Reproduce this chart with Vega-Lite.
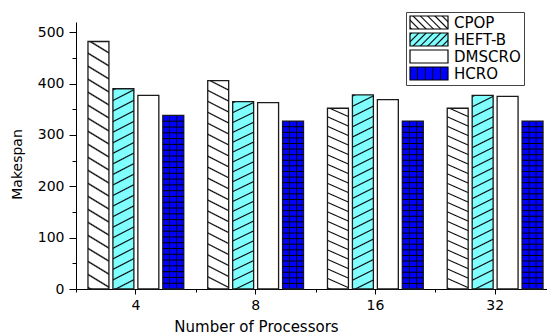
{
  "$schema": "https://vega.github.io/schema/vega-lite/v6.json",
  "width": 471,
  "height": 267,
  "autosize": {"type": "none"},
  "padding": {"left": 76, "top": 22, "right": 0, "bottom": 45},
  "background": "white",
  "config": {
    "font": "DejaVu Sans",
    "view": {"stroke": null},
    "axis": {"domainColor": "#000", "tickColor": "#000", "labelColor": "#000", "titleColor": "#000", "grid": false, "titleFontWeight": "normal"}
  },
  "params": [
    {"name": "gCPOP", "value": {"gradient": "linear", "x1": 0, "y1": 1, "x2": 0.054, "y2": -0.049, "stops": [
      {"offset": 0, "color": "#fff"}, {"offset": 0.006, "color": "#000"}, {"offset": 0.012, "color": "#fff"},
      {"offset": 0.05, "color": "#fff"}, {"offset": 0.056, "color": "#000"}, {"offset": 0.062, "color": "#fff"},
      {"offset": 0.1, "color": "#fff"}, {"offset": 0.106, "color": "#000"}, {"offset": 0.112, "color": "#fff"},
      {"offset": 0.15, "color": "#fff"}, {"offset": 0.156, "color": "#000"}, {"offset": 0.162, "color": "#fff"},
      {"offset": 0.2, "color": "#fff"}, {"offset": 0.206, "color": "#000"}, {"offset": 0.212, "color": "#fff"},
      {"offset": 0.25, "color": "#fff"}, {"offset": 0.256, "color": "#000"}, {"offset": 0.262, "color": "#fff"},
      {"offset": 0.3, "color": "#fff"}, {"offset": 0.306, "color": "#000"}, {"offset": 0.312, "color": "#fff"},
      {"offset": 0.35, "color": "#fff"}, {"offset": 0.356, "color": "#000"}, {"offset": 0.362, "color": "#fff"},
      {"offset": 0.4, "color": "#fff"}, {"offset": 0.406, "color": "#000"}, {"offset": 0.412, "color": "#fff"},
      {"offset": 0.45, "color": "#fff"}, {"offset": 0.456, "color": "#000"}, {"offset": 0.462, "color": "#fff"},
      {"offset": 0.5, "color": "#fff"}, {"offset": 0.506, "color": "#000"}, {"offset": 0.512, "color": "#fff"},
      {"offset": 0.55, "color": "#fff"}, {"offset": 0.556, "color": "#000"}, {"offset": 0.562, "color": "#fff"},
      {"offset": 0.6, "color": "#fff"}, {"offset": 0.606, "color": "#000"}, {"offset": 0.612, "color": "#fff"},
      {"offset": 0.65, "color": "#fff"}, {"offset": 0.656, "color": "#000"}, {"offset": 0.662, "color": "#fff"},
      {"offset": 0.7, "color": "#fff"}, {"offset": 0.706, "color": "#000"}, {"offset": 0.712, "color": "#fff"},
      {"offset": 0.75, "color": "#fff"}, {"offset": 0.756, "color": "#000"}, {"offset": 0.762, "color": "#fff"},
      {"offset": 0.8, "color": "#fff"}, {"offset": 0.806, "color": "#000"}, {"offset": 0.812, "color": "#fff"},
      {"offset": 0.85, "color": "#fff"}, {"offset": 0.856, "color": "#000"}, {"offset": 0.862, "color": "#fff"},
      {"offset": 0.9, "color": "#fff"}, {"offset": 0.906, "color": "#000"}, {"offset": 0.912, "color": "#fff"},
      {"offset": 0.95, "color": "#fff"}, {"offset": 0.956, "color": "#000"}, {"offset": 0.962, "color": "#fff"},
      {"offset": 1, "color": "#fff"}]}},
    {"name": "gHEFT", "value": {"gradient": "linear", "x1": 0, "y1": 0, "x2": 0.0568, "y2": 1.0508, "stops": [
      {"offset": 0, "color": "#80ffff"}, {"offset": 0.006, "color": "#000"}, {"offset": 0.012, "color": "#80ffff"},
      {"offset": 0.05, "color": "#80ffff"}, {"offset": 0.056, "color": "#000"}, {"offset": 0.062, "color": "#80ffff"},
      {"offset": 0.1, "color": "#80ffff"}, {"offset": 0.106, "color": "#000"}, {"offset": 0.112, "color": "#80ffff"},
      {"offset": 0.15, "color": "#80ffff"}, {"offset": 0.156, "color": "#000"}, {"offset": 0.162, "color": "#80ffff"},
      {"offset": 0.2, "color": "#80ffff"}, {"offset": 0.206, "color": "#000"}, {"offset": 0.212, "color": "#80ffff"},
      {"offset": 0.25, "color": "#80ffff"}, {"offset": 0.256, "color": "#000"}, {"offset": 0.262, "color": "#80ffff"},
      {"offset": 0.3, "color": "#80ffff"}, {"offset": 0.306, "color": "#000"}, {"offset": 0.312, "color": "#80ffff"},
      {"offset": 0.35, "color": "#80ffff"}, {"offset": 0.356, "color": "#000"}, {"offset": 0.362, "color": "#80ffff"},
      {"offset": 0.4, "color": "#80ffff"}, {"offset": 0.406, "color": "#000"}, {"offset": 0.412, "color": "#80ffff"},
      {"offset": 0.45, "color": "#80ffff"}, {"offset": 0.456, "color": "#000"}, {"offset": 0.462, "color": "#80ffff"},
      {"offset": 0.5, "color": "#80ffff"}, {"offset": 0.506, "color": "#000"}, {"offset": 0.512, "color": "#80ffff"},
      {"offset": 0.55, "color": "#80ffff"}, {"offset": 0.556, "color": "#000"}, {"offset": 0.562, "color": "#80ffff"},
      {"offset": 0.6, "color": "#80ffff"}, {"offset": 0.606, "color": "#000"}, {"offset": 0.612, "color": "#80ffff"},
      {"offset": 0.65, "color": "#80ffff"}, {"offset": 0.656, "color": "#000"}, {"offset": 0.662, "color": "#80ffff"},
      {"offset": 0.7, "color": "#80ffff"}, {"offset": 0.706, "color": "#000"}, {"offset": 0.712, "color": "#80ffff"},
      {"offset": 0.75, "color": "#80ffff"}, {"offset": 0.756, "color": "#000"}, {"offset": 0.762, "color": "#80ffff"},
      {"offset": 0.8, "color": "#80ffff"}, {"offset": 0.806, "color": "#000"}, {"offset": 0.812, "color": "#80ffff"},
      {"offset": 0.85, "color": "#80ffff"}, {"offset": 0.856, "color": "#000"}, {"offset": 0.862, "color": "#80ffff"},
      {"offset": 0.9, "color": "#80ffff"}, {"offset": 0.906, "color": "#000"}, {"offset": 0.912, "color": "#80ffff"},
      {"offset": 0.95, "color": "#80ffff"}, {"offset": 0.956, "color": "#000"}, {"offset": 0.962, "color": "#80ffff"},
      {"offset": 1, "color": "#80ffff"}]}},
    {"name": "gHCRO", "value": {"gradient": "linear", "x1": 0, "y1": 0, "x2": 1, "y2": 0, "stops": [
      {"offset": 0, "color": "#0000ff"}, {"offset": 0.3, "color": "#0000ff"}, {"offset": 0.325, "color": "#000"},
      {"offset": 0.342, "color": "#000"}, {"offset": 0.367, "color": "#0000ff"}, {"offset": 0.633, "color": "#0000ff"},
      {"offset": 0.658, "color": "#000"}, {"offset": 0.675, "color": "#000"}, {"offset": 0.7, "color": "#0000ff"},
      {"offset": 1, "color": "#0000ff"}]}},
    {"name": "gHCROrows", "value": {"gradient": "linear", "x1": 0, "y1": 0, "x2": 0, "y2": 1, "stops": [
      {"offset": 0, "color": "rgba(0,0,0,0)"},
      {"offset": 0.0273, "color": "rgba(0,0,0,0)"}, {"offset": 0.0333, "color": "#000"}, {"offset": 0.0393, "color": "rgba(0,0,0,0)"},
      {"offset": 0.0607, "color": "rgba(0,0,0,0)"}, {"offset": 0.0667, "color": "#000"}, {"offset": 0.0727, "color": "rgba(0,0,0,0)"},
      {"offset": 0.094, "color": "rgba(0,0,0,0)"}, {"offset": 0.1, "color": "#000"}, {"offset": 0.106, "color": "rgba(0,0,0,0)"},
      {"offset": 0.1273, "color": "rgba(0,0,0,0)"}, {"offset": 0.1333, "color": "#000"}, {"offset": 0.1393, "color": "rgba(0,0,0,0)"},
      {"offset": 0.1607, "color": "rgba(0,0,0,0)"}, {"offset": 0.1667, "color": "#000"}, {"offset": 0.1727, "color": "rgba(0,0,0,0)"},
      {"offset": 0.194, "color": "rgba(0,0,0,0)"}, {"offset": 0.2, "color": "#000"}, {"offset": 0.206, "color": "rgba(0,0,0,0)"},
      {"offset": 0.2273, "color": "rgba(0,0,0,0)"}, {"offset": 0.2333, "color": "#000"}, {"offset": 0.2393, "color": "rgba(0,0,0,0)"},
      {"offset": 0.2607, "color": "rgba(0,0,0,0)"}, {"offset": 0.2667, "color": "#000"}, {"offset": 0.2727, "color": "rgba(0,0,0,0)"},
      {"offset": 0.294, "color": "rgba(0,0,0,0)"}, {"offset": 0.3, "color": "#000"}, {"offset": 0.306, "color": "rgba(0,0,0,0)"},
      {"offset": 0.3273, "color": "rgba(0,0,0,0)"}, {"offset": 0.3333, "color": "#000"}, {"offset": 0.3393, "color": "rgba(0,0,0,0)"},
      {"offset": 0.3607, "color": "rgba(0,0,0,0)"}, {"offset": 0.3667, "color": "#000"}, {"offset": 0.3727, "color": "rgba(0,0,0,0)"},
      {"offset": 0.394, "color": "rgba(0,0,0,0)"}, {"offset": 0.4, "color": "#000"}, {"offset": 0.406, "color": "rgba(0,0,0,0)"},
      {"offset": 0.4273, "color": "rgba(0,0,0,0)"}, {"offset": 0.4333, "color": "#000"}, {"offset": 0.4393, "color": "rgba(0,0,0,0)"},
      {"offset": 0.4607, "color": "rgba(0,0,0,0)"}, {"offset": 0.4667, "color": "#000"}, {"offset": 0.4727, "color": "rgba(0,0,0,0)"},
      {"offset": 0.494, "color": "rgba(0,0,0,0)"}, {"offset": 0.5, "color": "#000"}, {"offset": 0.506, "color": "rgba(0,0,0,0)"},
      {"offset": 0.5273, "color": "rgba(0,0,0,0)"}, {"offset": 0.5333, "color": "#000"}, {"offset": 0.5393, "color": "rgba(0,0,0,0)"},
      {"offset": 0.5607, "color": "rgba(0,0,0,0)"}, {"offset": 0.5667, "color": "#000"}, {"offset": 0.5727, "color": "rgba(0,0,0,0)"},
      {"offset": 0.594, "color": "rgba(0,0,0,0)"}, {"offset": 0.6, "color": "#000"}, {"offset": 0.606, "color": "rgba(0,0,0,0)"},
      {"offset": 0.6273, "color": "rgba(0,0,0,0)"}, {"offset": 0.6333, "color": "#000"}, {"offset": 0.6393, "color": "rgba(0,0,0,0)"},
      {"offset": 0.6607, "color": "rgba(0,0,0,0)"}, {"offset": 0.6667, "color": "#000"}, {"offset": 0.6727, "color": "rgba(0,0,0,0)"},
      {"offset": 0.694, "color": "rgba(0,0,0,0)"}, {"offset": 0.7, "color": "#000"}, {"offset": 0.706, "color": "rgba(0,0,0,0)"},
      {"offset": 0.7273, "color": "rgba(0,0,0,0)"}, {"offset": 0.7333, "color": "#000"}, {"offset": 0.7393, "color": "rgba(0,0,0,0)"},
      {"offset": 0.7607, "color": "rgba(0,0,0,0)"}, {"offset": 0.7667, "color": "#000"}, {"offset": 0.7727, "color": "rgba(0,0,0,0)"},
      {"offset": 0.794, "color": "rgba(0,0,0,0)"}, {"offset": 0.8, "color": "#000"}, {"offset": 0.806, "color": "rgba(0,0,0,0)"},
      {"offset": 0.8273, "color": "rgba(0,0,0,0)"}, {"offset": 0.8333, "color": "#000"}, {"offset": 0.8393, "color": "rgba(0,0,0,0)"},
      {"offset": 0.8607, "color": "rgba(0,0,0,0)"}, {"offset": 0.8667, "color": "#000"}, {"offset": 0.8727, "color": "rgba(0,0,0,0)"},
      {"offset": 0.894, "color": "rgba(0,0,0,0)"}, {"offset": 0.9, "color": "#000"}, {"offset": 0.906, "color": "rgba(0,0,0,0)"},
      {"offset": 0.9273, "color": "rgba(0,0,0,0)"}, {"offset": 0.9333, "color": "#000"}, {"offset": 0.9393, "color": "rgba(0,0,0,0)"},
      {"offset": 0.9607, "color": "rgba(0,0,0,0)"}, {"offset": 0.9667, "color": "#000"}, {"offset": 0.9727, "color": "rgba(0,0,0,0)"},
      {"offset": 1, "color": "rgba(0,0,0,0)"}]}},
    {"name": "lCPOP", "value": {"gradient": "linear", "x1": 0, "y1": 1, "x2": 1.2015, "y2": 0.589, "stops": [
      {"offset": 0, "color": "#fff"}, {"offset": 0.03, "color": "#000"}, {"offset": 0.06, "color": "#fff"},
      {"offset": 0.1429, "color": "#fff"}, {"offset": 0.1729, "color": "#000"}, {"offset": 0.2029, "color": "#fff"},
      {"offset": 0.2857, "color": "#fff"}, {"offset": 0.3157, "color": "#000"}, {"offset": 0.3457, "color": "#fff"},
      {"offset": 0.4286, "color": "#fff"}, {"offset": 0.4586, "color": "#000"}, {"offset": 0.4886, "color": "#fff"},
      {"offset": 0.5714, "color": "#fff"}, {"offset": 0.6014, "color": "#000"}, {"offset": 0.6314, "color": "#fff"},
      {"offset": 0.7143, "color": "#fff"}, {"offset": 0.7443, "color": "#000"}, {"offset": 0.7743, "color": "#fff"},
      {"offset": 0.8571, "color": "#fff"}, {"offset": 0.8871, "color": "#000"}, {"offset": 0.9171, "color": "#fff"},
      {"offset": 1, "color": "#fff"}]}},
    {"name": "lHEFT", "value": {"gradient": "linear", "x1": 0, "y1": 0, "x2": 1.2015, "y2": 0.411, "stops": [
      {"offset": 0, "color": "#80ffff"}, {"offset": 0.03, "color": "#000"}, {"offset": 0.06, "color": "#80ffff"},
      {"offset": 0.1429, "color": "#80ffff"}, {"offset": 0.1729, "color": "#000"}, {"offset": 0.2029, "color": "#80ffff"},
      {"offset": 0.2857, "color": "#80ffff"}, {"offset": 0.3157, "color": "#000"}, {"offset": 0.3457, "color": "#80ffff"},
      {"offset": 0.4286, "color": "#80ffff"}, {"offset": 0.4586, "color": "#000"}, {"offset": 0.4886, "color": "#80ffff"},
      {"offset": 0.5714, "color": "#80ffff"}, {"offset": 0.6014, "color": "#000"}, {"offset": 0.6314, "color": "#80ffff"},
      {"offset": 0.7143, "color": "#80ffff"}, {"offset": 0.7443, "color": "#000"}, {"offset": 0.7743, "color": "#80ffff"},
      {"offset": 0.8571, "color": "#80ffff"}, {"offset": 0.8871, "color": "#000"}, {"offset": 0.9171, "color": "#80ffff"},
      {"offset": 1, "color": "#80ffff"}]}},
    {"name": "lHCRO", "value": {"gradient": "linear", "x1": 0, "y1": 0, "x2": 1, "y2": 0, "stops": [
      {"offset": 0, "color": "#0000ff"}, {"offset": 0.18, "color": "#0000ff"}, {"offset": 0.195, "color": "#000"},
      {"offset": 0.205, "color": "#000"}, {"offset": 0.22, "color": "#0000ff"}, {"offset": 0.38, "color": "#0000ff"},
      {"offset": 0.395, "color": "#000"}, {"offset": 0.405, "color": "#000"}, {"offset": 0.42, "color": "#0000ff"},
      {"offset": 0.58, "color": "#0000ff"}, {"offset": 0.595, "color": "#000"}, {"offset": 0.605, "color": "#000"},
      {"offset": 0.62, "color": "#0000ff"}, {"offset": 0.78, "color": "#0000ff"}, {"offset": 0.795, "color": "#000"},
      {"offset": 0.805, "color": "#000"}, {"offset": 0.82, "color": "#0000ff"}, {"offset": 1, "color": "#0000ff"}]}}
  ],
  "data": {
    "values": [
      {"procs": "4", "algo": "CPOP", "makespan": 482},
      {"procs": "4", "algo": "HEFT-B", "makespan": 390},
      {"procs": "4", "algo": "DMSCRO", "makespan": 377},
      {"procs": "4", "algo": "HCRO", "makespan": 338},
      {"procs": "8", "algo": "CPOP", "makespan": 406},
      {"procs": "8", "algo": "HEFT-B", "makespan": 365},
      {"procs": "8", "algo": "DMSCRO", "makespan": 363},
      {"procs": "8", "algo": "HCRO", "makespan": 327},
      {"procs": "16", "algo": "CPOP", "makespan": 352},
      {"procs": "16", "algo": "HEFT-B", "makespan": 378},
      {"procs": "16", "algo": "DMSCRO", "makespan": 369},
      {"procs": "16", "algo": "HCRO", "makespan": 327},
      {"procs": "32", "algo": "CPOP", "makespan": 352},
      {"procs": "32", "algo": "HEFT-B", "makespan": 377},
      {"procs": "32", "algo": "DMSCRO", "makespan": 375},
      {"procs": "32", "algo": "HCRO", "makespan": 327}
    ]
  },
  "layer": [
    {
      "mark": {"type": "bar", "stroke": null},
      "encoding": {
        "x": {"field": "procs", "type": "ordinal", "sort": ["4", "8", "16", "32"],
          "scale": {"range": [0, 479], "paddingInner": 0, "paddingOuter": 0},
          "axis": {"orient": "bottom", "title": null, "labels": false, "domain": false, "tickBand": "extent", "tickSize": 3}},
        "y": {"field": "makespan", "type": "quantitative", "scale": {"domain": [0, 520], "nice": false},
          "axis": {"orient": "left", "title": null, "labels": false, "domain": false, "values": [50, 150, 250, 350, 450], "tickSize": 4}},
        "xOffset": {"field": "algo", "type": "nominal",
          "scale": {"domain": ["CPOP", "HEFT-B", "DMSCRO", "HCRO"], "paddingInner": 0.16, "paddingOuter": 0.48}},
        "fill": {"field": "algo", "type": "nominal",
          "scale": {"domain": ["CPOP", "HEFT-B", "DMSCRO", "HCRO"],
            "range": [{"expr": "lCPOP"}, {"expr": "lHEFT"}, "#ffffff", {"expr": "lHCRO"}]},
          "legend": {"title": null, "orient": "none", "legendX": 330, "legendY": -10,
            "padding": 3, "rowPadding": 1, "clipHeight": 15, "strokeColor": "#444", "fillColor": "#fff",
            "symbolType": "M-1,-0.342H1V0.342H-1Z", "symbolSize": 1444,
            "symbolStrokeColor": "#000", "symbolStrokeWidth": 1.2,
            "labelFontSize": 15, "labelOffset": 5, "labelColor": "#000", "labelLimit": 200}}
      }
    },
    {
      "mark": {"type": "bar", "stroke": "#1a1a1a", "strokeWidth": 1.3},
      "encoding": {
        "x": {"field": "procs", "type": "ordinal", "sort": ["4", "8", "16", "32"],
          "scale": {"range": [0, 479], "paddingInner": 0, "paddingOuter": 0},
          "axis": {"orient": "bottom", "title": "Number of Processors", "titleX": 180, "titleY": 42,
            "titleBaseline": "alphabetic", "titleFontSize": 15, "labelFontSize": 14, "labelPadding": 4,
            "labelAngle": 0, "tickSize": 5}},
        "y": {"field": "makespan", "type": "quantitative", "scale": {"domain": [0, 520], "nice": false},
          "axis": {"orient": "left", "title": "Makespan", "values": [0, 100, 200, 300, 400, 500], "tickSize": 7,
            "labelPadding": 5, "labelFontSize": 14, "titleFontSize": 14, "titleX": -52, "titleY": 142}},
        "xOffset": {"field": "algo", "type": "nominal",
          "scale": {"domain": ["CPOP", "HEFT-B", "DMSCRO", "HCRO"], "paddingInner": 0.16, "paddingOuter": 0.48}},
        "fill": {"field": "algo", "type": "nominal",
          "scale": {"domain": ["CPOP", "HEFT-B", "DMSCRO", "HCRO"],
            "range": [{"expr": "gCPOP"}, {"expr": "gHEFT"}, "#ffffff", {"expr": "gHCRO"}]},
          "legend": null}
      }
    },
    {
      "transform": [{"filter": "datum.algo === 'HCRO'"}],
      "mark": {"type": "bar", "stroke": null},
      "encoding": {
        "x": {"field": "procs", "type": "ordinal", "sort": ["4", "8", "16", "32"],
          "scale": {"range": [0, 479], "paddingInner": 0, "paddingOuter": 0}, "axis": null},
        "y": {"field": "makespan", "type": "quantitative", "scale": {"domain": [0, 520], "nice": false}, "axis": null},
        "xOffset": {"field": "algo", "type": "nominal",
          "scale": {"domain": ["CPOP", "HEFT-B", "DMSCRO", "HCRO"], "paddingInner": 0.16, "paddingOuter": 0.48}},
        "fill": {"value": {"expr": "gHCROrows"}}
      }
    }
  ],
  "resolve": {"scale": {"fill": "independent"}, "axis": {"x": "independent", "y": "independent"}}
}
